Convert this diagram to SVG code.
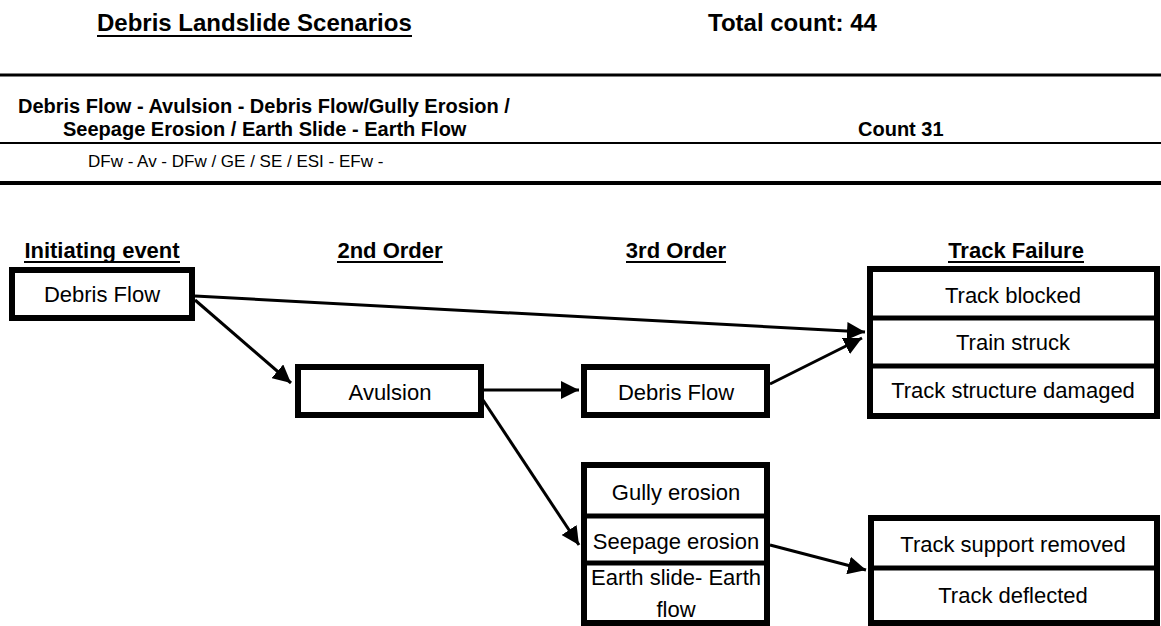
<svg xmlns="http://www.w3.org/2000/svg" width="1161" height="626" viewBox="0 0 1161 626">
<defs>
<style>
.t{font-family:"Liberation Sans",Arial,sans-serif;fill:#000}
.b{font-weight:bold}
.box{fill:#fff;stroke:#000;stroke-width:6}
.div{stroke:#000;stroke-width:5}
.rule{stroke:#000}
.ul{stroke:#000;stroke-width:2}
.conn{stroke:#000;stroke-width:3;fill:none}
.bt{font-size:22px;text-anchor:middle}
.hd{font-size:22px;font-weight:bold;text-anchor:middle}
</style>
<marker id="ah" viewBox="0 0 10 10" refX="10" refY="5" markerWidth="6" markerHeight="6" markerUnits="strokeWidth" orient="auto">
<path d="M0,0 L10,5 L0,10 z" fill="#000"/>
</marker>
</defs>
<rect width="1161" height="626" fill="#fff"/>
<g id="header">
<text class="t b" x="97" y="31" font-size="24">Debris Landslide Scenarios</text>
<line class="ul" x1="97" y1="36" x2="412" y2="36"/>
<text class="t b" x="708" y="31" font-size="24">Total count: 44</text>
<line class="rule" x1="0" y1="75" x2="1161" y2="75" stroke-width="3"/>
<text class="t b" x="18" y="113" font-size="20">Debris Flow - Avulsion - Debris Flow/Gully Erosion /</text>
<text class="t b" x="63" y="136" font-size="20">Seepage Erosion / Earth Slide - Earth Flow</text>
<text class="t b" x="858" y="136" font-size="20">Count 31</text>
<line class="rule" x1="0" y1="143" x2="1161" y2="143" stroke-width="2"/>
<text class="t" x="88" y="167" font-size="17">DFw - Av - DFw / GE / SE / ESI - EFw -</text>
<line class="rule" x1="0" y1="183" x2="1161" y2="183" stroke-width="4"/>
</g>
<g id="columns">
<text class="t hd" x="102" y="258">Initiating event</text>
<line class="ul" x1="24" y1="262" x2="180" y2="262"/>
<text class="t hd" x="390" y="258">2nd Order</text>
<line class="ul" x1="337" y1="262" x2="443" y2="262"/>
<text class="t hd" x="676" y="258">3rd Order</text>
<line class="ul" x1="626" y1="262" x2="726" y2="262"/>
<text class="t hd" x="1016" y="258">Track Failure</text>
<line class="ul" x1="948" y1="262" x2="1084" y2="262"/>
</g>
<g id="connectors">
<line class="conn" x1="195" y1="296" x2="865" y2="332" marker-end="url(#ah)"/>
<line class="conn" x1="195" y1="300" x2="291" y2="383" marker-end="url(#ah)"/>
<line class="conn" x1="484" y1="390" x2="579" y2="390" marker-end="url(#ah)"/>
<line class="conn" x1="483" y1="400" x2="579" y2="545" marker-end="url(#ah)"/>
<line class="conn" x1="770" y1="384" x2="862" y2="338" marker-end="url(#ah)"/>
<line class="conn" x1="770" y1="545" x2="866" y2="570" marker-end="url(#ah)"/>
</g>
<g id="n-debris-flow-init">
<rect class="box" x="12" y="270" width="180" height="48"/>
<text class="t bt" x="102" y="302">Debris Flow</text>
</g>
<g id="n-avulsion">
<rect class="box" x="298" y="367" width="183" height="48"/>
<text class="t bt" x="390" y="400">Avulsion</text>
</g>
<g id="n-debris-flow-3rd">
<rect class="box" x="584" y="367" width="183" height="48"/>
<text class="t bt" x="676" y="400">Debris Flow</text>
</g>
<g id="n-track-failure">
<rect class="box" x="870" y="269" width="287" height="147"/>
<line class="div" x1="870" y1="318" x2="1157" y2="318"/>
<line class="div" x1="870" y1="366" x2="1157" y2="366"/>
<text class="t bt" x="1013" y="303">Track blocked</text>
<text class="t bt" x="1013" y="350">Train struck</text>
<text class="t bt" x="1013" y="398">Track structure damaged</text>
</g>
<g id="n-erosion-stack">
<rect class="box" x="584" y="465" width="183" height="158"/>
<line class="div" x1="584" y1="516" x2="767" y2="516"/>
<line class="div" x1="584" y1="563" x2="767" y2="563"/>
<text class="t bt" x="676" y="500">Gully erosion</text>
<text class="t bt" x="676" y="549">Seepage erosion</text>
<text class="t bt" x="676" y="585">Earth slide- Earth</text>
<text class="t bt" x="676" y="617">flow</text>
</g>
<g id="n-track-support">
<rect class="box" x="871" y="518" width="286" height="105"/>
<line class="div" x1="871" y1="568" x2="1157" y2="568"/>
<text class="t bt" x="1013" y="552">Track support removed</text>
<text class="t bt" x="1013" y="603">Track deflected</text>
</g>
</svg>
